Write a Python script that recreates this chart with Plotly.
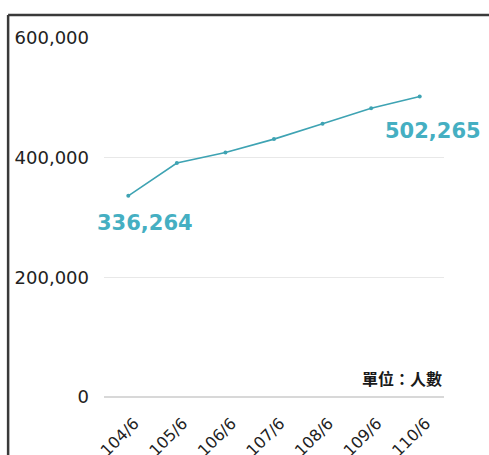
import plotly.graph_objects as go

# Population figures by survey period (ROC year / month)
periods = ["104/6", "105/6", "106/6", "107/6", "108/6", "109/6", "110/6"]
people = [336264, 391000, 408500, 431000, 456500, 482500, 502265]
y_ticks = [0, 200000, 400000, 600000]
y_tick_text = ["0", "200,000", "400,000", "600,000"]

line_color = "#3ea3b3"
label_color = "#45afc2"
font_family = "DejaVu Sans, Verdana, sans-serif"

fig = go.Figure()
fig.add_trace(go.Scatter(
    x=periods, y=people, mode="lines+markers",
    line=dict(color=line_color, width=1.6),
    marker=dict(color=line_color, size=4),
    hoverinfo="skip", showlegend=False,
))

# value labels on the first and last points
fig.add_annotation(x=periods[0], y=people[0], text=f"{people[0]:,}",
                   showarrow=False, xshift=17, yshift=-27,
                   font=dict(size=21, color=label_color, family=font_family, weight="bold"))
fig.add_annotation(x=periods[-1], y=people[-1], text=f"{people[-1]:,}",
                   showarrow=False, xshift=13, yshift=-35,
                   font=dict(size=21, color=label_color, family=font_family, weight="bold"))

# unit note above the baseline
fig.add_annotation(x=1, xref="paper", xanchor="right", y=0, yref="y", yanchor="bottom",
                   yshift=5, text="單位：人數", showarrow=False,
                   font=dict(size=16, color="#1a1a1a", family="Noto Sans CJK TC", weight="bold"))

# frame lines along the top and left edges
frame = dict(color="#3a3a3a", width=2.5)
fig.add_shape(type="line", xref="paper", yref="paper", x0=-0.282, x1=1.2, y0=1.064, y1=1.064, line=frame)
fig.add_shape(type="line", xref="paper", yref="paper", x0=-0.282, x1=-0.282, y0=1.064, y1=-0.2, line=frame)

fig.update_layout(
    width=489, height=455,
    margin=dict(l=104, r=45, t=38, b=58),
    paper_bgcolor="white", plot_bgcolor="white",
    font=dict(family=font_family, color="#222222"),
    xaxis=dict(
        range=[-0.5, 6.5], tickangle=-45, showgrid=False, showline=False, zeroline=False,
        tickfont=dict(size=16, color="#222222"), ticks="", automargin=False,
        ticklabelshift=6, ticklabelstandoff=13,
    ),
    yaxis=dict(
        range=[0, 600000], tickvals=y_ticks, ticktext=y_tick_text,
        showgrid=True, gridcolor="#e8e8e8", gridwidth=1,
        zeroline=True, zerolinecolor="#d8d8d8", zerolinewidth=1.5, automargin=False,
        showline=False, ticks="", ticklabelstandoff=14,
        tickfont=dict(size=18, color="#222222"),
    ),
)

fig.write_html("out.html")
